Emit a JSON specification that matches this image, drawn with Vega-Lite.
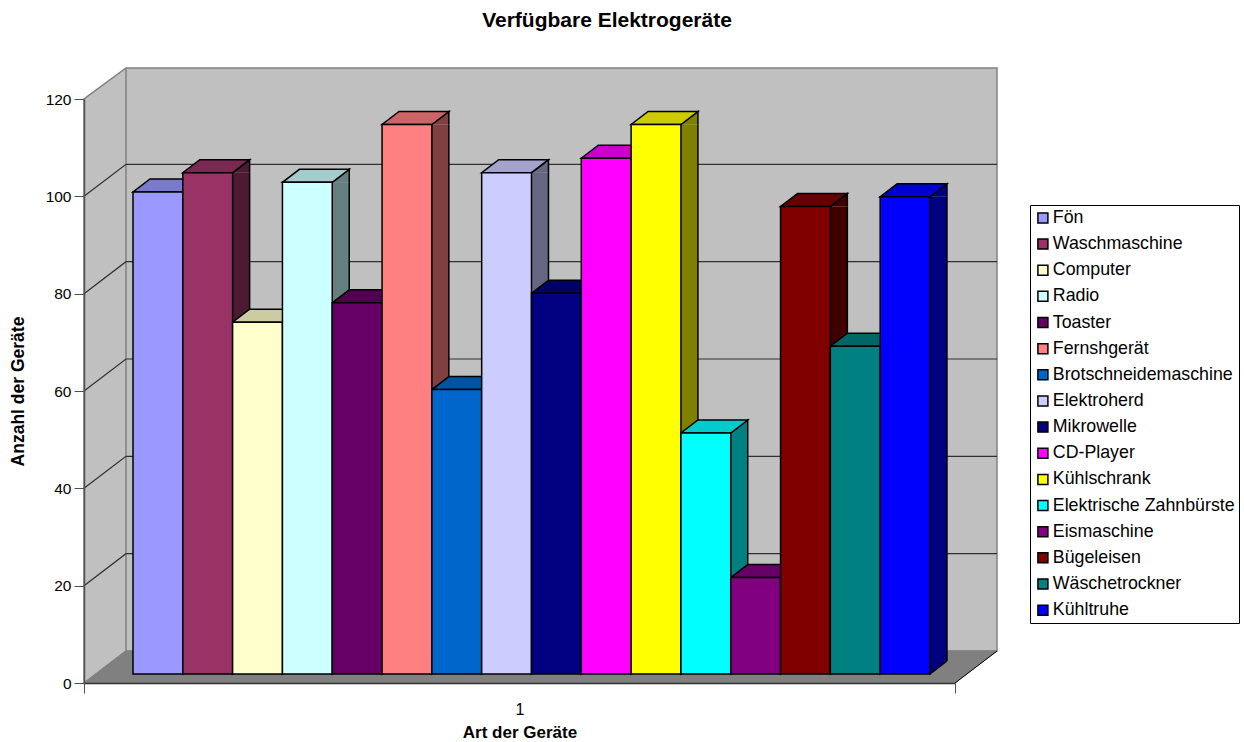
{"$schema":"https://vega.github.io/schema/vega-lite/v6.json","width":871,"height":584,"autosize":{"type":"none"},"padding":{"left":84,"top":99,"right":289,"bottom":59},"background":"white","config":{"font":"Liberation Sans","view":{"stroke":null}},"title":{"text":"Verfügbare Elektrogeräte","font":"Liberation Sans","fontSize":21,"fontWeight":"bold","color":"black","anchor":"middle","frame":"group","dx":87.5,"offset":34},"datasets":{"bars":[{"gruppe":"1","name":"Fön","wert":100},{"gruppe":"1","name":"Waschmaschine","wert":104},{"gruppe":"1","name":"Computer","wert":73},{"gruppe":"1","name":"Radio","wert":102},{"gruppe":"1","name":"Toaster","wert":77},{"gruppe":"1","name":"Fernshgerät","wert":114},{"gruppe":"1","name":"Brotschneidemaschine","wert":59},{"gruppe":"1","name":"Elektroherd","wert":104},{"gruppe":"1","name":"Mikrowelle","wert":79},{"gruppe":"1","name":"CD-Player","wert":107},{"gruppe":"1","name":"Kühlschrank","wert":114},{"gruppe":"1","name":"Elektrische Zahnbürste","wert":50},{"gruppe":"1","name":"Eismaschine","wert":20},{"gruppe":"1","name":"Bügeleisen","wert":97},{"gruppe":"1","name":"Wäschetrockner","wert":68},{"gruppe":"1","name":"Kühltruhe","wert":99}],"grid":[{"gruppe":"1","wert":20},{"gruppe":"1","wert":40},{"gruppe":"1","wert":60},{"gruppe":"1","wert":80},{"gruppe":"1","wert":100}],"base":[{"gruppe":"1","wert":0}]},"resolve":{"scale":{"y":"independent","color":"independent","xOffset":"independent"},"axis":{"x":"independent"}},"layer":[{"data":{"name":"base"},"mark":{"type":"point","filled":true,"opacity":1,"size":4,"fill":"#C0C0C0","stroke":"#808080","strokeWidth":1.5,"shape":"M-435.5,0 L-393.5,-32 L477.5,-32 L477.5,-615 L-393.5,-615 L-435.5,-584 Z M-393.5,-32 L-393.5,-615"},"encoding":{"x":{"field":"gruppe","type":"nominal","title":"Art der Geräte","scale":{"domain":["1"],"paddingInner":0,"paddingOuter":0},"axis":{"labelAngle":0,"labelFontSize":16,"labelColor":"black","labelPadding":8,"tickBand":"extent","tickSize":10,"tickColor":"#505050","domainColor":"#303030","domainWidth":1.5,"titleFontSize":17,"titleFontWeight":"bold","titleColor":"black","titlePadding":7,"zindex":1}},"y":{"field":"wert","type":"quantitative","title":"Anzahl der Geräte","scale":{"domain":[0,120],"range":[584,0]},"axis":{"values":[0,20,40,60,80,100,120],"grid":false,"labelFontSize":15.5,"labelColor":"black","labelPadding":3,"tickSize":10,"tickColor":"#505050","domainColor":"#505050","domainWidth":1.5,"titleFontSize":17.5,"titleFontWeight":"bold","titleColor":"black","titlePadding":18,"zindex":1}}}},{"data":{"name":"base"},"mark":{"type":"point","filled":true,"opacity":1,"size":4,"fill":"#808080","stroke":"#808080","strokeWidth":1,"shape":"M-435.5,0 L435.5,0 L477.5,-32 L-393.5,-32 Z"},"encoding":{"x":{"field":"gruppe","type":"nominal","axis":null},"y":{"field":"wert","type":"quantitative","axis":null,"scale":{"domain":[0,120],"range":[584,0]}}}},{"data":{"name":"base"},"mark":{"type":"point","filled":false,"opacity":1,"size":4,"stroke":"black","strokeWidth":1,"shape":"M435.5,0 L477.5,-32"},"encoding":{"x":{"field":"gruppe","type":"nominal","axis":null},"y":{"field":"wert","type":"quantitative","axis":null,"scale":{"domain":[0,120],"range":[584,0]}}}},{"data":{"name":"grid"},"mark":{"type":"point","filled":false,"opacity":1,"size":4,"stroke":"#303030","strokeWidth":1.2,"shape":"M-435.5,0 L-393.5,-32 L477.5,-32"},"encoding":{"x":{"field":"gruppe","type":"nominal","axis":null},"y":{"field":"wert","type":"quantitative","axis":null,"scale":{"domain":[0,120],"range":[584,0]}}}},{"data":{"name":"bars"},"mark":{"type":"bar","width":17},"encoding":{"x":{"field":"gruppe","type":"nominal","axis":null},"xOffset":{"field":"name","type":"nominal","sort":null,"scale":{"type":"band","domain":["Fön","Waschmaschine","Computer","Radio","Toaster","Fernshgerät","Brotschneidemaschine","Elektroherd","Mikrowelle","CD-Player","Kühlschrank","Elektrische Zahnbürste","Eismaschine","Bügeleisen","Wäschetrockner","Kühltruhe"],"paddingInner":0,"paddingOuter":0.743,"align":0.662,"range":[33.4,904.4]}},"y":{"field":"wert","type":"quantitative","axis":null,"scale":{"domain":[0,120],"range":[575,-3.4]}},"y2":{"datum":2.7},"color":{"field":"name","type":"nominal","legend":null,"scale":{"domain":["Fön","Waschmaschine","Computer","Radio","Toaster","Fernshgerät","Brotschneidemaschine","Elektroherd","Mikrowelle","CD-Player","Kühlschrank","Elektrische Zahnbürste","Eismaschine","Bügeleisen","Wäschetrockner","Kühltruhe"],"range":["#4C4C80","#4C1A33","#808066","#668080","#330033","#804040","#003366","#666680","#000040","#800080","#808000","#008080","#400040","#400000","#004040","#000080"]}}}},{"data":{"name":"bars"},"mark":{"type":"point","filled":true,"opacity":1,"size":4,"stroke":"black","strokeWidth":1.5,"shape":"M24.9,0 L41.9,-13 L41.9,0"},"encoding":{"x":{"field":"gruppe","type":"nominal","axis":null},"xOffset":{"field":"name","type":"nominal","sort":null,"scale":{"type":"band","domain":["Fön","Waschmaschine","Computer","Radio","Toaster","Fernshgerät","Brotschneidemaschine","Elektroherd","Mikrowelle","CD-Player","Kühlschrank","Elektrische Zahnbürste","Eismaschine","Bügeleisen","Wäschetrockner","Kühltruhe"],"paddingInner":0,"paddingOuter":0.743,"align":0.662}},"y":{"field":"wert","type":"quantitative","axis":null,"scale":{"domain":[0,120],"range":[575,-3.4]}},"color":{"field":"name","type":"nominal","legend":null,"scale":{"domain":["Fön","Waschmaschine","Computer","Radio","Toaster","Fernshgerät","Brotschneidemaschine","Elektroherd","Mikrowelle","CD-Player","Kühlschrank","Elektrische Zahnbürste","Eismaschine","Bügeleisen","Wäschetrockner","Kühltruhe"],"range":["#4C4C80","#4C1A33","#808066","#668080","#330033","#804040","#003366","#666680","#000040","#800080","#808000","#008080","#400040","#400000","#004040","#000080"]}}}},{"data":{"name":"bars"},"mark":{"type":"point","filled":true,"opacity":1,"size":4,"stroke":"black","strokeWidth":1.5,"shape":"M24.9,-13 L24.9,0 L41.9,-13"},"encoding":{"x":{"field":"gruppe","type":"nominal","axis":null},"xOffset":{"field":"name","type":"nominal","sort":null,"scale":{"type":"band","domain":["Fön","Waschmaschine","Computer","Radio","Toaster","Fernshgerät","Brotschneidemaschine","Elektroherd","Mikrowelle","CD-Player","Kühlschrank","Elektrische Zahnbürste","Eismaschine","Bügeleisen","Wäschetrockner","Kühltruhe"],"paddingInner":0,"paddingOuter":0.743,"align":0.662}},"y":{"datum":0,"type":"quantitative","axis":null,"scale":{"domain":[0,120],"range":[575,-3.4]}},"color":{"field":"name","type":"nominal","legend":null,"scale":{"domain":["Fön","Waschmaschine","Computer","Radio","Toaster","Fernshgerät","Brotschneidemaschine","Elektroherd","Mikrowelle","CD-Player","Kühlschrank","Elektrische Zahnbürste","Eismaschine","Bügeleisen","Wäschetrockner","Kühltruhe"],"range":["#4C4C80","#4C1A33","#808066","#668080","#330033","#804040","#003366","#666680","#000040","#800080","#808000","#008080","#400040","#400000","#004040","#000080"]}}}},{"data":{"name":"bars"},"mark":{"type":"rule","stroke":"black","strokeWidth":1.5},"encoding":{"x":{"field":"gruppe","type":"nominal","axis":null},"xOffset":{"field":"name","type":"nominal","sort":null,"scale":{"type":"band","domain":["Fön","Waschmaschine","Computer","Radio","Toaster","Fernshgerät","Brotschneidemaschine","Elektroherd","Mikrowelle","CD-Player","Kühlschrank","Elektrische Zahnbürste","Eismaschine","Bügeleisen","Wäschetrockner","Kühltruhe"],"paddingInner":0,"paddingOuter":0.743,"align":0.662,"range":[41.9,912.9]}},"y":{"field":"wert","type":"quantitative","axis":null,"scale":{"domain":[0,120],"range":[575,-3.4]}},"y2":{"datum":2.7}}},{"data":{"name":"bars"},"mark":{"type":"point","filled":true,"opacity":1,"size":4,"stroke":"black","strokeWidth":1.5,"shape":"M-24.9,0 L24.9,0 L41.9,-13 L-7.9,-13 Z"},"encoding":{"x":{"field":"gruppe","type":"nominal","axis":null},"xOffset":{"field":"name","type":"nominal","sort":null,"scale":{"type":"band","domain":["Fön","Waschmaschine","Computer","Radio","Toaster","Fernshgerät","Brotschneidemaschine","Elektroherd","Mikrowelle","CD-Player","Kühlschrank","Elektrische Zahnbürste","Eismaschine","Bügeleisen","Wäschetrockner","Kühltruhe"],"paddingInner":0,"paddingOuter":0.743,"align":0.662}},"y":{"field":"wert","type":"quantitative","axis":null,"scale":{"domain":[0,120],"range":[575,-3.4]}},"color":{"field":"name","type":"nominal","legend":null,"scale":{"domain":["Fön","Waschmaschine","Computer","Radio","Toaster","Fernshgerät","Brotschneidemaschine","Elektroherd","Mikrowelle","CD-Player","Kühlschrank","Elektrische Zahnbürste","Eismaschine","Bügeleisen","Wäschetrockner","Kühltruhe"],"range":["#7A7ACC","#7A2952","#CCCCA3","#A3CCCC","#520052","#CC6666","#0052A3","#A3A3CC","#000066","#CC00CC","#CCCC00","#00CCCC","#660066","#660000","#006666","#0000CC"]}}}},{"data":{"name":"bars"},"mark":{"type":"bar","stroke":"black","strokeWidth":1.5},"encoding":{"x":{"field":"gruppe","type":"nominal","axis":null},"xOffset":{"field":"name","type":"nominal","sort":null,"scale":{"type":"band","domain":["Fön","Waschmaschine","Computer","Radio","Toaster","Fernshgerät","Brotschneidemaschine","Elektroherd","Mikrowelle","CD-Player","Kühlschrank","Elektrische Zahnbürste","Eismaschine","Bügeleisen","Wäschetrockner","Kühltruhe"],"paddingInner":0,"paddingOuter":0.743,"align":0.662}},"y":{"field":"wert","type":"quantitative","axis":null,"scale":{"domain":[0,120],"range":[575,-3.4]}},"color":{"field":"name","type":"nominal","title":null,"scale":{"domain":["Fön","Waschmaschine","Computer","Radio","Toaster","Fernshgerät","Brotschneidemaschine","Elektroherd","Mikrowelle","CD-Player","Kühlschrank","Elektrische Zahnbürste","Eismaschine","Bügeleisen","Wäschetrockner","Kühltruhe"],"range":["#9999FF","#993366","#FFFFCC","#CCFFFF","#660066","#FF8080","#0066CC","#CCCCFF","#000080","#FF00FF","#FFFF00","#00FFFF","#800080","#800000","#008080","#0000FF"]},"legend":{"orient":"none","legendX":946,"legendY":106,"padding":4,"rowPadding":7.15,"labelFontSize":17.8,"labelColor":"black","labelOffset":1,"symbolType":"square","symbolSize":100,"symbolStrokeColor":"black","symbolStrokeWidth":1.5,"strokeColor":"black","fillColor":"white","labelLimit":300}}}}]}
